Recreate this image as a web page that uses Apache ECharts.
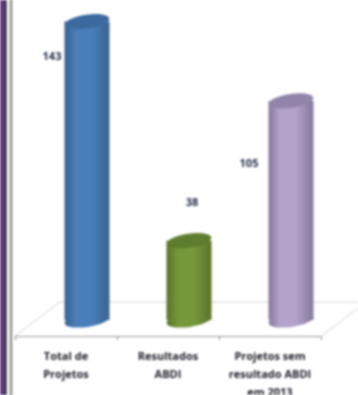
<!DOCTYPE html>
<html><head><meta charset="utf-8">
<style>html,body{margin:0;padding:0;background:#fff}#c{width:358px;height:395px;filter:blur(0.8px)}</style>
<script src="https://cdn.jsdelivr.net/npm/echarts@6/dist/echarts.min.js"></script></head>
<body><div id="c"></div>
<script>
const categories = ['Total de\nProjetos', 'Resultados\nABDI', 'Projetos sem\nresultado ABDI\nem 2013'];
const values = [143, 38, 105];
const edgeColors = ['#38628f', '#587528', '#85789c'];
const midColors = ['#4a7ebb', '#76973a', '#b3a2c9'];
const capColors = ['#3c6a9e', '#5f7d2e', '#9384aa'];
const labelOffsets = [[-35, 35], [3, -38], [-42, 63]];

const chart = echarts.init(document.getElementById('c'), null, {renderer: 'canvas'});
const depthShift = 21, rx = 22.5, ry = 7, tilt = 0.14;
const grad = (i) => new echarts.graphic.LinearGradient(0, 0, 1, 0, [
  {offset: 0, color: edgeColors[i]}, {offset: 0.25, color: midColors[i]},
  {offset: 0.6, color: midColors[i]}, {offset: 1, color: edgeColors[i]}]);

chart.setOption({
  animation: false,
  grid: {left: 15, right: 37, top: 7, bottom: 75, outerBoundsMode: 'none'},
  xAxis: {
    type: 'category', data: categories, offset: 16,
    axisLine: {onZero: false, lineStyle: {color: '#9a9a9a', width: 1}},
    axisTick: {show: true, length: 4, lineStyle: {color: '#8a8a8a'}},
    axisLabel: {interval: 0, margin: 12, fontFamily: 'Open Sans', fontWeight: 'bold', fontSize: 11, lineHeight: 18, color: '#20202e'}
  },
  yAxis: {type: 'value', min: 0, max: 150, show: false},
  series: [{
    type: 'custom',
    data: values.map((v, i) => [i, v]),
    encode: {x: 0, y: 1},
    clip: false,
    renderItem: (params, api) => {
      const i = params.dataIndex;
      const base = api.coord([i, 0]);
      const top = api.coord([i, api.value(1)]);
      const cx = base[0] + depthShift;
      const fill = grad(i);
      return {type: 'group', children: [
        {type: 'ellipse', x: cx, y: base[1], rotation: tilt, shape: {cx: 0, cy: 0, rx, ry}, style: {fill}},
        {type: 'rect', shape: {x: cx - rx, y: top[1], width: rx * 2, height: base[1] - top[1]}, style: {fill}},
        {type: 'ellipse', x: cx, y: top[1], rotation: tilt, shape: {cx: 0, cy: 0, rx, ry}, style: {fill: capColors[i]}},
        {type: 'text', x: cx + labelOffsets[i][0], y: top[1] + labelOffsets[i][1], style: {
          text: String(values[i]), fontFamily: 'Open Sans', fontWeight: 'bold', fontSize: 11,
          fill: '#1f2a44', align: 'center', verticalAlign: 'middle'}}
      ]};
    }
  }],
  graphic: [
    {type: 'rect', z: -1, shape: {x: 0, y: 0, width: 5, height: 395}, style: {fill: '#5b3d7c'}},
    {type: 'line', z: -1, shape: {x1: 5.8, y1: 0, x2: 5.8, y2: 395}, style: {stroke: '#111', lineWidth: 1.5}},
    {type: 'line', z: -1, shape: {x1: 11, y1: 0, x2: 11, y2: 395}, style: {stroke: '#555', lineWidth: 2.5, lineDash: [2, 1]}},
    {type: 'polyline', z: -1, shape: {points: [[15, 336], [60, 302], [358, 302]]}, style: {stroke: '#d2d2d2', lineWidth: 1, fill: null}},
    {type: 'line', z: -1, shape: {x1: 323, y1: 335, x2: 358, y2: 308}, style: {stroke: '#d2d2d2', lineWidth: 1}}
  ]
});
</script></body></html>
